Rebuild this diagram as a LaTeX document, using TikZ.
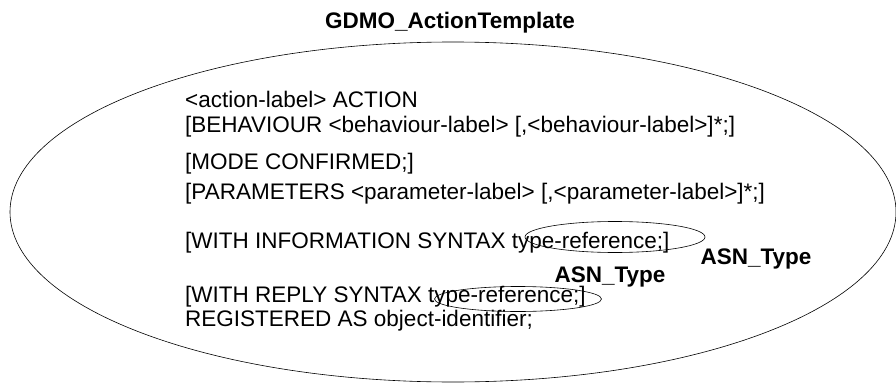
\documentclass[tikz,border=0pt]{standalone}
\usepackage{fontspec}
\setmainfont{Liberation Sans}
\usetikzlibrary{shapes.geometric}
\tikzset{
	line/.style={font=\fontsize{22.5}{26}\selectfont, anchor=base west, inner sep=0pt},
	tname/.style={font=\bfseries\fontsize{22.5}{26}\selectfont, inner sep=0pt},
	oval/.style={draw, black, ellipse, inner sep=0pt, line width=0.6pt}
}

\begin{document}
\begin{tikzpicture}[x=1pt, y=-1pt]
	\useasboundingbox (0,0) rectangle (896,385);
	% template outline
	\node[oval, minimum width=886, minimum height=340] (template) at (453,212) {};
	\node[tname] (title) at (450,23) {GDMO\_ActionTemplate};
	% the lines of the template
	\node[line] (label) at (185,107) {<action-label> ACTION};
	\node[line] (behaviour) at (185,132) {[BEHAVIOUR <behaviour-label> [,<behaviour-label>]*;]};
	\node[line] (mode) at (185,169) {[MODE CONFIRMED;]};
	\node[line] (params) at (185,199) {[PARAMETERS <parameter-label> [,<parameter-label>]*;]};
	\node[line] (info) at (185,248) {[WITH INFORMATION SYNTAX type-reference;]};
	\node[line] (reply) at (185,302) {[WITH REPLY SYNTAX type-reference;]};
	\node[line] (registered) at (185,326) {REGISTERED AS object-identifier;};
	% type references
	\node[oval, minimum width=180, minimum height=31] (inforef) at (615,237) {};
	\node[oval, minimum width=167, minimum height=25] (replyref) at (518,299) {};
	\node[tname] (infotype) at (756,259) {ASN\_Type};
	\node[tname] (replytype) at (610,277) {ASN\_Type};
\end{tikzpicture}
\end{document}
